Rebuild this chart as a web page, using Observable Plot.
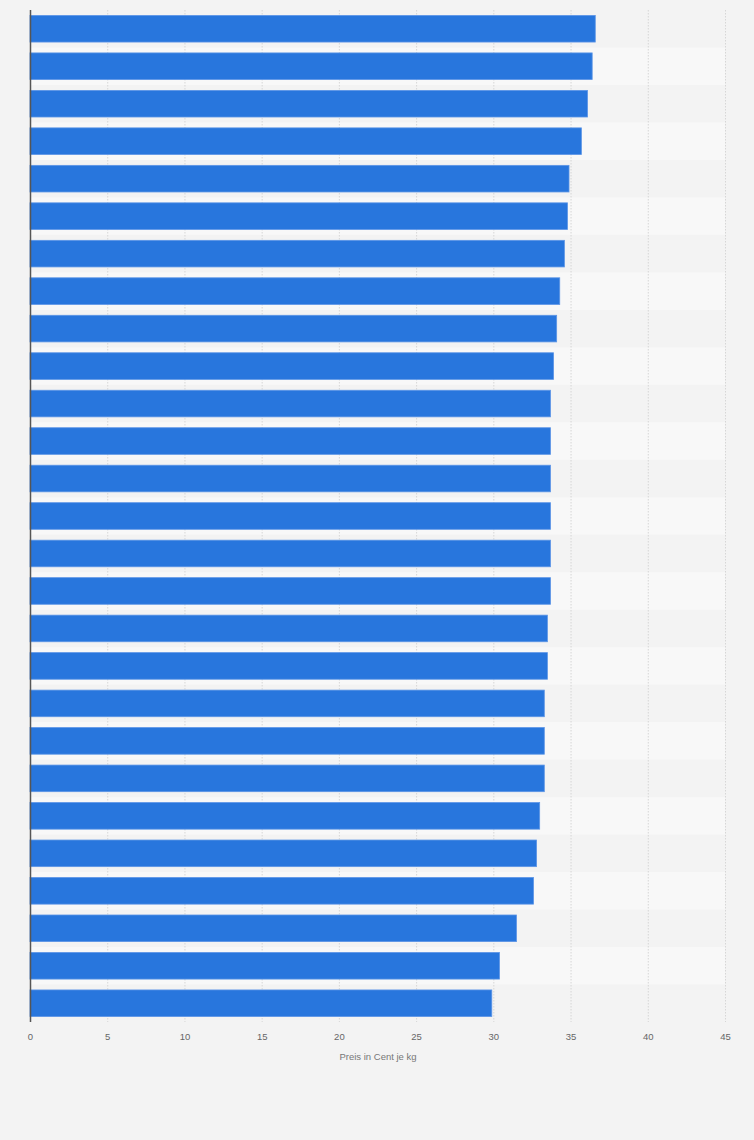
<!DOCTYPE html>
<html>
<head>
<meta charset="utf-8">
<script src="https://cdn.jsdelivr.net/npm/d3@7"></script>
<script src="https://cdn.jsdelivr.net/npm/@observablehq/plot@0.6"></script>
<style>
  html, body { margin: 0; padding: 0; background: #f3f3f3; }
  #chart { width: 754px; height: 1140px; }
  svg { display: block; }
</style>
</head>
<body>
<div id="chart"></div>
<script>
const categories = Array.from({length: 27}, (_, i) => "Rang " + (i + 1));
const values = [36.6, 36.4, 36.1, 35.7, 34.9, 34.8, 34.6, 34.3, 34.1, 33.9,
                33.7, 33.7, 33.7, 33.7, 33.7, 33.7, 33.5, 33.5, 33.3, 33.3,
                33.3, 33.0, 32.8, 32.6, 31.5, 30.4, 29.9];
const xTicks = [0, 5, 10, 15, 20, 25, 30, 35, 40, 45];
const xLabel = "Preis in Cent je kg";

const data = categories.map((c, i) => ({cat: c, value: values[i], idx: i}));

const chart = Plot.plot({
  width: 754,
  height: 1140,
  marginTop: 10,
  marginBottom: 118,
  marginLeft: 30,
  marginRight: 29,
  style: {background: "#f3f3f3", fontFamily: "'Liberation Sans', Arial, sans-serif"},
  x: {domain: [0, 45], ticks: xTicks, label: null},
  y: {domain: categories, paddingInner: 0.29, paddingOuter: 0.145, round: false, axis: null},
  marks: [
    // alternating row bands
    Plot.barX(data.filter(d => d.idx % 2 === 1), {
      x1: 0, x2: 45, y: "cat", fill: "#f8f8f8",
      insetTop: -5.45, insetBottom: -5.45
    }),
    Plot.gridX(xTicks.filter(t => t > 0), {stroke: "#d6d6d6", strokeOpacity: 1, strokeDasharray: "1.5,1.5", strokeWidth: 1}),
    Plot.barX(data, {x: "value", y: "cat", fill: "#2876dd", stroke: "#5c95e6", strokeWidth: 0.8}),
    Plot.ruleX([0], {stroke: "#555", strokeWidth: 1.5}),
    Plot.axisX({ticks: xTicks, tickSize: 0, tickPadding: 11, fill: "#666", fontSize: 9.5, label: null}),
    Plot.text([xLabel], {frameAnchor: "bottom", dy: 37, fill: "#777", fontSize: 9.5})
  ]
});
document.getElementById("chart").appendChild(chart);
</script>
</body>
</html>
